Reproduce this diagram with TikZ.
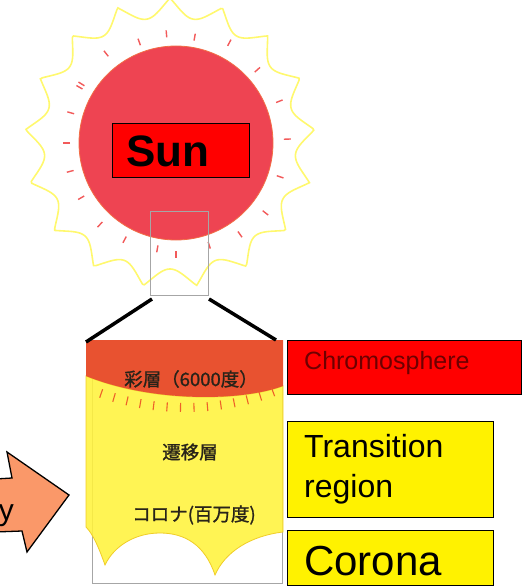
\documentclass[tikz,border=0pt]{standalone}
\usepackage{fontspec}
\setmainfont{Liberation Sans}
\newfontfamily\jpfont[FakeBold=1.2]{Noto Sans CJK JP}
\definecolor{sunbody}{RGB}{238,68,82}
\definecolor{sunedge}{RGB}{242,110,70}
\definecolor{rimyellow}{RGB}{255,248,110}
\definecolor{flare}{RGB}{242,90,90}
\definecolor{chromo}{RGB}{232,82,48}
\definecolor{coronayellow}{RGB}{255,242,60}
\definecolor{coronaedge}{RGB}{240,205,40}
\definecolor{spicule}{RGB}{238,96,40}
\definecolor{arrowfill}{RGB}{250,152,105}
\definecolor{labelred}{RGB}{110,0,0}
\definecolor{jptext}{RGB}{40,35,25}
\begin{document}
\begin{tikzpicture}[x=1pt,y=-1pt,
  labelbox/.style={draw=black,line width=1pt,anchor=north west,inner sep=0pt},
  frame/.style={draw=black!35,line width=1pt,anchor=north west,inner sep=0pt},
  zoomline/.style={draw=black,line width=3.5pt},
  flaretick/.style={draw=flare,line width=1.4pt},
  spiculetick/.style={draw=spicule,line width=1.1pt},
  jplabel/.style={font=\jpfont\fontsize{18.5}{20}\selectfont,text=jptext,inner sep=0pt}]
\useasboundingbox (0,0) rectangle (529,588);

% wavy halo around the sun
\draw[rimyellow,line width=1.6pt]
  plot[domain=0:360,samples=500] ({170+(126+19*(1-abs(sin(8.5*(\x+90)))))*cos(\x)},
                                  {143+(126+19*(1-abs(sin(8.5*(\x+90)))))*sin(\x)}) -- cycle;

% sun disc
\node[circle,fill=sunbody,draw=sunedge,line width=0.8pt,minimum size=194pt,inner sep=0pt] (sun) at (176,143) {};

% short flare marks around the disc
\foreach \a/\r in {-150/108,-128/110,-110/104,-95/106,-80/104,-62/110,-42/106,-22/108,
                   -2/108,18/106,38/110,55/108,72/104,90/108,100/104,118/106,133/108,
                   150/106,165/106,180/106,196/106,212/108}
  \draw[flaretick] ({176+\r*cos(\a)},{143+\r*sin(\a)}) -- ({176+(\r+7)*cos(\a)},{143+(\r+7)*sin(\a)});

% title box on the sun
\node[labelbox,fill=red,minimum width=137pt,minimum height=54pt] (sunbox) at (112,123) {};
\node[anchor=base west,font=\bfseries\fontsize{44}{46}\selectfont,inner sep=0pt] (suntext) at (126,166) {Sun};

% window marking the enlarged part
\node[draw=black!35,line width=1pt,anchor=north west,inner sep=0pt,minimum width=58pt,minimum height=84pt] (win) at (150,211) {};

% enlarged panel: frame
\node[frame,minimum width=190pt,minimum height=243pt] (panel) at (92,340) {};

% corona (yellow, scalloped bottom)
\path[fill=coronayellow,fill opacity=0.88,draw=coronaedge,line width=0.8pt]
  (86,376) .. controls (150,402) and (240,402) .. (283,386)
  -- (283,532) .. controls (250,536) and (225,552) .. (215,575)
  .. controls (205,545) and (185,533) .. (160,533)
  .. controls (135,533) and (114,546) .. (105,565)
  .. controls (99,548) and (93,534) .. (86,527) -- cycle;

% chromosphere (red-orange cap)
\fill[chromo] (86,340) -- (283,340) -- (283,386)
  .. controls (240,402) and (150,402) .. (86,376) -- cycle;

% spicules below the chromosphere
\foreach \a in {70,73,76,79,82,85,88,91,94,97,100,103,106,109}
  \draw[spiculetick] ({185+253*cos(\a)},{150+253*sin(\a)}) -- ({185+262*cos(\a)},{150+262*sin(\a)});

% leader lines from the window to the panel
\coordinate (pl) at (86,342);
\coordinate (pr) at (276,340);
\draw[zoomline] ([shift={(2,3)}]win.south west) -- (pl);
\draw[zoomline] ([shift={(0,3)}]win.south east) -- (pr);

% Japanese labels in the panel
\node[jplabel] (lchromo) at (191,379) {彩層（6000度）};
\node[jplabel] (ltrans) at (190,452) {遷移層};
\node[jplabel] (lcorona) at (194,515) {コロナ(百万度)};

% legend boxes
\node[labelbox,fill=red,minimum width=234pt,minimum height=54pt] (bchromo) at (287,340) {};
\node[anchor=base west,inner sep=0pt,text=labelred,font=\fontsize{25}{27}\selectfont] (tchromo) at (304,369) {Chromosphere};

\node[labelbox,fill=yellow,minimum width=206pt,minimum height=96pt] (btrans) at (287,421) {};
\node[anchor=base west,inner sep=0pt,font=\fontsize{32}{34}\selectfont] (ttrans1) at (304,457) {Transition};
\node[anchor=base west,inner sep=0pt,font=\fontsize{32}{34}\selectfont] (ttrans2) at (304,497) {region};

\node[labelbox,fill=yellow,minimum width=206pt,minimum height=55pt] (bcorona) at (287,530) {};
\node[anchor=base west,inner sep=0pt,font=\fontsize{42}{44}\selectfont] (tcorona) at (304,575) {Corona};

% block arrow entering from the left
\draw[fill=arrowfill,draw=black,line width=1.3pt,line join=miter]
  (-5,479) -- (12,478) -- (7,452) -- (69,495) -- (27,552) -- (22,531) -- (-5,532) -- cycle;
\node[anchor=base east,inner sep=0pt,font=\fontsize{30}{32}\selectfont] (arrowtext) at (14,520) {y};
\end{tikzpicture}
\end{document}
